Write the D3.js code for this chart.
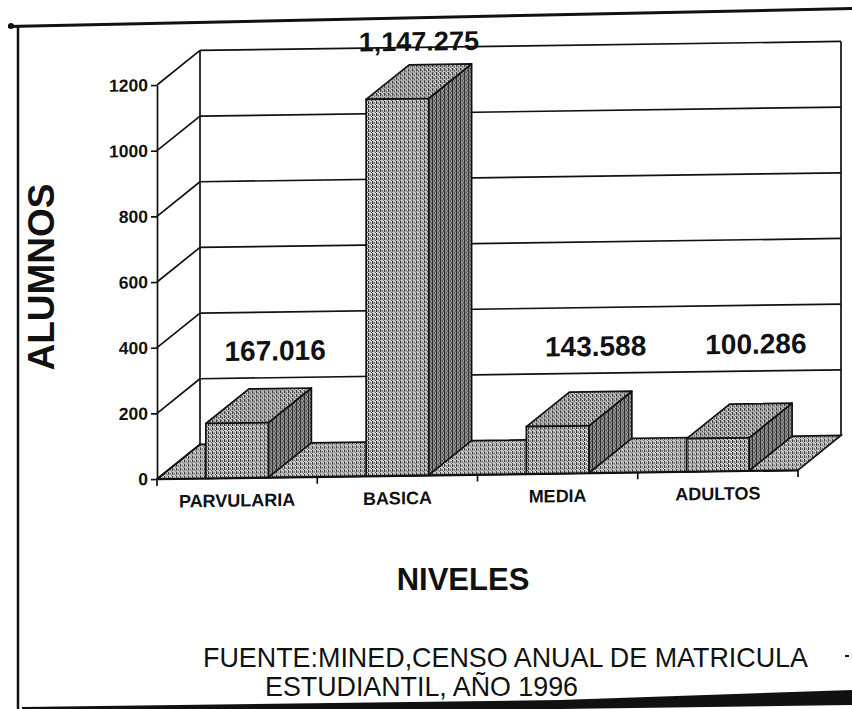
<!DOCTYPE html>
<html>
<head>
<meta charset="utf-8">
<script src="https://cdn.jsdelivr.net/npm/d3@7"></script>
<style>
  body { margin: 0; background: #fff; }
  svg { display: block; }
  text { font-family: "Liberation Sans", Arial, sans-serif; fill: #111; }
</style>
</head>
<body>
<svg id="chart" width="852" height="709"></svg>
<script>
// data (thousands of students)
var categories = ["PARVULARIA", "BASICA", "MEDIA", "ADULTOS"];
var values = [167.016, 1147.275, 143.588, 100.286];
var valueLabels = ["167.016", "1,147.275", "143.588", "100.286"];
var yTicks = [0, 200, 400, 600, 800, 1000, 1200];

var svg = d3.select("#chart");

// stipple textures like the photocopy
var defs = svg.append("defs");
function stipple(id, bg, dots) {
  var p = defs.append("pattern").attr("id", id)
    .attr("patternUnits", "userSpaceOnUse").attr("width", 4).attr("height", 4);
  p.append("rect").attr("width", 4).attr("height", 4).attr("fill", bg);
  dots.forEach(function (d) {
    p.append("rect").attr("x", d[0]).attr("y", d[1]).attr("width", d[2]).attr("height", d[3]).attr("fill", d[4]);
  });
}
stipple("front", "#dcdcdc", [[0, 0, 1, 3, "#222"], [2, 1, 1, 2, "#555"], [3, 3, 1, 1, "#444"], [1, 2, 1, 1, "#888"]]);
stipple("side", "#a8a8a8", [[0, 0, 1, 4, "#222"], [2, 0, 1, 2, "#333"], [3, 2, 1, 2, "#555"], [1, 3, 1, 1, "#777"]]);
stipple("top", "#d0d0d0", [[0, 0, 1, 3, "#333"], [2, 2, 1, 2, "#333"], [1, 1, 1, 1, "#666"], [3, 0, 1, 1, "#888"]]);
stipple("floor", "#d6d6d6", [[0, 0, 1, 3, "#333"], [2, 1, 1, 2, "#555"], [3, 3, 1, 1, "#666"]]);

// page frame from the scan
svg.append("path").attr("d", "M8,25 L852,7 L852,10 L8,28 Z").attr("fill", "#111");
svg.append("circle").attr("cx", 11).attr("cy", 26).attr("r", 3).attr("fill", "#111");
svg.append("line").attr("x1", 18).attr("y1", 26).attr("x2", 18).attr("y2", 709)
  .attr("stroke", "#111").attr("stroke-width", 2.5);
svg.append("path").attr("d", "M22,707 L560,700 L852,690 L852,705 L560,709 L22,709 Z").attr("fill", "#111");
svg.append("rect").attr("x", 845).attr("y", 655).attr("width", 4).attr("height", 2).attr("fill", "#111");

// chart geometry
var ox = 157, oy = 479, plotW = 641, plotH = 394, dx = 43, dy = -34;

var x = d3.scaleBand().domain(categories).range([ox, ox + plotW]);
var y = d3.scaleLinear().domain([0, 1200]).range([oy, oy - plotH]);
var barW = x.bandwidth() * 0.39;

// scan is slightly sheared
var g = svg.append("g")
  .attr("transform", "translate(" + ox + "," + oy + ") skewY(-0.8) translate(" + (-ox) + "," + (-oy) + ")");

var ink = { stroke: "#111", width: 1.7 };

// floor
g.append("path")
  .attr("d", "M" + ox + "," + oy + " L" + (ox + plotW) + "," + oy + " L" + (ox + plotW + dx) + "," + (oy + dy) +
    " L" + (ox + dx) + "," + (oy + dy) + " Z")
  .attr("fill", "url(#floor)").attr("stroke", ink.stroke).attr("stroke-width", ink.width);

// back wall gridlines and side wall diagonals
yTicks.forEach(function (t) {
  if (t > 0) {
    g.append("line").attr("x1", ox + dx).attr("x2", ox + plotW + dx)
      .attr("y1", y(t) + dy).attr("y2", y(t) + dy)
      .attr("stroke", ink.stroke).attr("stroke-width", ink.width);
  }
  g.append("line").attr("x1", ox).attr("y1", y(t)).attr("x2", ox + dx).attr("y2", y(t) + dy)
    .attr("stroke", ink.stroke).attr("stroke-width", ink.width);
});
g.append("line").attr("x1", ox + dx).attr("x2", ox + dx).attr("y1", oy + dy).attr("y2", y(1200) + dy)
  .attr("stroke", ink.stroke).attr("stroke-width", ink.width);
g.append("line").attr("x1", ox + plotW + dx).attr("x2", ox + plotW + dx).attr("y1", oy + dy).attr("y2", y(1200) + dy)
  .attr("stroke", ink.stroke).attr("stroke-width", ink.width);

// y axis
var yAxis = g.append("g").attr("transform", "translate(" + ox + ",0)")
  .call(d3.axisLeft(y).tickValues(yTicks).tickSize(6).tickSizeOuter(0).tickPadding(3).tickFormat(d3.format("d")));
yAxis.select(".domain").attr("stroke", ink.stroke).attr("stroke-width", ink.width);
yAxis.selectAll(".tick line").attr("stroke", ink.stroke).attr("stroke-width", ink.width);
yAxis.selectAll(".tick text").attr("font-size", 17.5).attr("font-weight", "bold")
  .style("font-family", "'Liberation Sans', Arial, sans-serif").attr("fill", "#111");

// x axis: ticks on band boundaries, labels on band centres
var bounds = categories.map(function (c) { return x(c); }).concat([ox + plotW]);
g.selectAll(".xtick").data(bounds).join("line").attr("class", "xtick")
  .attr("x1", function (d) { return d; }).attr("x2", function (d) { return d; })
  .attr("y1", oy).attr("y2", oy + 7)
  .attr("stroke", ink.stroke).attr("stroke-width", ink.width);
var xAxis = g.append("g").attr("transform", "translate(0," + oy + ")")
  .call(d3.axisBottom(x).tickSize(0).tickPadding(16));
xAxis.select(".domain").attr("stroke", ink.stroke).attr("stroke-width", ink.width);
xAxis.selectAll(".tick text").attr("font-size", 18).attr("font-weight", "bold")
  .style("font-family", "'Liberation Sans', Arial, sans-serif").attr("fill", "#111");

// 3D bars
var bars = g.selectAll(".bar").data(values).join("g").attr("class", "bar");
function bx(i) { return x(categories[i]) + (x.bandwidth() - barW) / 2; }
bars.append("path") // side
  .attr("d", function (v, i) {
    var x1 = bx(i) + barW;
    return "M" + x1 + "," + oy + " L" + x1 + "," + y(v) + " L" + (x1 + dx) + "," + (y(v) + dy) +
      " L" + (x1 + dx) + "," + (oy + dy) + " Z";
  })
  .attr("fill", "url(#side)").attr("stroke", ink.stroke).attr("stroke-width", ink.width).attr("stroke-linejoin", "round");
bars.append("path") // top
  .attr("d", function (v, i) {
    var x0 = bx(i);
    return "M" + x0 + "," + y(v) + " L" + (x0 + barW) + "," + y(v) + " L" + (x0 + barW + dx) + "," + (y(v) + dy) +
      " L" + (x0 + dx) + "," + (y(v) + dy) + " Z";
  })
  .attr("fill", "url(#top)").attr("stroke", ink.stroke).attr("stroke-width", ink.width).attr("stroke-linejoin", "round");
bars.append("rect") // front
  .attr("x", function (v, i) { return bx(i); })
  .attr("y", function (v) { return y(v); })
  .attr("width", barW)
  .attr("height", function (v) { return oy - y(v); })
  .attr("fill", "url(#front)").attr("stroke", ink.stroke).attr("stroke-width", ink.width);

// value labels: tall bar gets it above, others in a row
g.selectAll(".val").data(values).join("text").attr("class", "val")
  .attr("x", function (v, i) { return x(categories[i]) + x.bandwidth() / 2 + (v > 600 ? dx / 2 : 38); })
  .attr("y", function (v) { return v > 600 ? y(v) + dy - 14 : 362; })
  .attr("text-anchor", "middle").attr("font-weight", "bold")
  .attr("font-size", function (v) { return v > 600 ? 27 : 28; })
  .text(function (v, i) { return valueLabels[i]; });

// titles
svg.append("text").attr("transform", "translate(54,277) rotate(-90)")
  .attr("text-anchor", "middle").attr("font-weight", "bold").attr("font-size", 37).text("ALUMNOS");
svg.append("text").attr("x", 463).attr("y", 590)
  .attr("text-anchor", "middle").attr("font-weight", "bold").attr("font-size", 31).text("NIVELES");
svg.append("text").attr("x", 203).attr("y", 667).attr("font-size", 28)
  .attr("textLength", 605).attr("lengthAdjust", "spacingAndGlyphs")
  .text("FUENTE:MINED,CENSO ANUAL DE MATRICULA");
svg.append("text").attr("x", 265).attr("y", 696).attr("font-size", 28)
  .attr("textLength", 313).attr("lengthAdjust", "spacingAndGlyphs")
  .text("ESTUDIANTIL, AÑO 1996");
</script>
</body>
</html>
